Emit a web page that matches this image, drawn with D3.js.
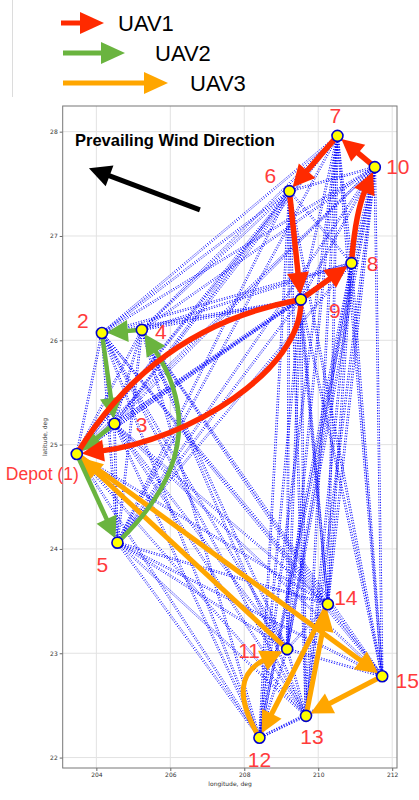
<!DOCTYPE html>
<html>
<head>
<meta charset="utf-8">
<script src="https://cdn.jsdelivr.net/npm/d3@7/dist/d3.min.js"></script>
<style>
  body { margin: 0; background: #fff; }
  svg { display: block; }
</style>
</head>
<body>
<script>
// Waypoints: depot plus 14 targets (longitude / latitude, degrees)
const nodeNames = ["Depot (1)", "2", "3", "4", "5", "6", "7", "8", "9", "10", "11", "12", "13", "14", "15"];
const nodeLon = [203.47, 204.15, 204.49, 205.23, 204.57, 209.22, 210.52, 210.90, 209.53, 211.53, 209.16, 208.41, 209.67, 210.26, 211.73];
const nodeLat = [24.91, 26.07, 25.20, 26.10, 24.06, 27.43, 27.96, 26.74, 26.39, 27.66, 23.04, 22.19, 22.40, 23.47, 22.78];

// Tours flown by each vehicle (node numbers, depot = 1)
const routeUAV1 = [1, 9, 8, 10, 7, 6, 9, 1];
const routeUAV2 = [1, 5, 4, 2, 3, 1];
const routeUAV3 = [1, 15, 13, 14, 12, 11, 1];
const uavNames = ["UAV1", "UAV2", "UAV3"];

// Wind direction annotation (tail -> head, lon/lat)
const windTail = [206.8, 27.25];
const windHead = [203.8, 27.65];

const xTicks = [204, 206, 208, 210, 212];
const yTicks = [22, 23, 24, 25, 26, 27, 28];

const W = 419, H = 800;
const plot = { left: 62.7, right: 397, top: 106, bottom: 768 };

const x = d3.scaleLinear().domain([203.09, 212.13]).range([plot.left, plot.right]);
const y = d3.scaleLinear().domain([21.90, 28.246]).range([plot.bottom, plot.top]);

const svg = d3.select("body").append("svg").attr("width", W).attr("height", H);
svg.append("rect").attr("width", W).attr("height", H).attr("fill", "#fff");

// thin separator at the left of the legend
svg.append("line").attr("x1", 12.5).attr("x2", 12.5).attr("y1", 0).attr("y2", 97)
  .attr("stroke", "#dcdcdc").attr("stroke-width", 1);

// grid
const grid = svg.append("g");
grid.selectAll("line.gx").data(xTicks).join("line")
  .attr("x1", d => x(d)).attr("x2", d => x(d))
  .attr("y1", plot.top).attr("y2", plot.bottom)
  .attr("stroke", "#e2e2e2").attr("stroke-width", 1);
grid.selectAll("line.gy").data(yTicks).join("line")
  .attr("y1", d => y(d)).attr("y2", d => y(d))
  .attr("x1", plot.left).attr("x2", plot.right)
  .attr("stroke", "#e2e2e2").attr("stroke-width", 1);

const pts = nodeLon.map((lo, i) => [x(lo), y(nodeLat[i])]);

// every candidate leg between waypoints, drawn both ways
const legs = [];
for (let i = 0; i < pts.length; i++)
  for (let j = i + 1; j < pts.length; j++)
    for (const s of [-0.8, 0.8]) legs.push({ a: pts[i], b: pts[j], s });
svg.append("g").selectAll("line").data(legs).join("line")
  .each(function (d) {
    const dx = d.b[0] - d.a[0], dy = d.b[1] - d.a[1];
    const L = Math.hypot(dx, dy);
    const ox = -dy / L * d.s, oy = dx / L * d.s;
    d3.select(this)
      .attr("x1", d.a[0] + ox).attr("y1", d.a[1] + oy)
      .attr("x2", d.b[0] + ox).attr("y2", d.b[1] + oy);
  })
  .attr("stroke", "#0000ff").attr("stroke-width", 1)
  .attr("stroke-dasharray", "1.2,1.5").attr("stroke-opacity", 0.95);

// axes
const axisFont = "DejaVu Sans, sans-serif";
const gx = svg.append("g").attr("transform", `translate(0,${plot.bottom})`)
  .call(d3.axisBottom(x).tickValues(xTicks).tickSize(3).tickPadding(2).tickFormat(d3.format("d")));
const gy = svg.append("g").attr("transform", `translate(${plot.left},0)`)
  .call(d3.axisLeft(y).tickValues(yTicks).tickSize(3).tickPadding(2).tickFormat(d3.format("d")));
[gx, gy].forEach(g => {
  g.select(".domain").remove();
  g.selectAll(".tick line").attr("stroke", "#666");
  g.selectAll(".tick text").attr("font-family", axisFont).attr("font-size", 6).attr("fill", "#333");
});
svg.append("rect")
  .attr("x", plot.left).attr("y", plot.top)
  .attr("width", plot.right - plot.left).attr("height", plot.bottom - plot.top)
  .attr("fill", "none").attr("stroke", "#777").attr("stroke-width", 1);

svg.append("text").attr("x", 230).attr("y", 786).attr("text-anchor", "middle")
  .attr("font-family", axisFont).attr("font-size", 6).attr("fill", "#333").text("longitude, deg");
svg.append("text").attr("transform", "translate(47,437) rotate(-90)").attr("text-anchor", "middle")
  .attr("font-family", axisFont).attr("font-size", 6).attr("fill", "#333").text("latitude, deg");

// arrow helper: straight, quadratic (rad) or cubic (chord-relative controls) shaft with a triangular head
function arrow(g, p0, p1, o) {
  const dx = p1[0] - p0[0], dy = p1[1] - p0[1];
  const unit = (a, b) => { const vx = b[0] - a[0], vy = b[1] - a[1], l = Math.hypot(vx, vy); return [vx / l, vy / l]; };
  const rel = (a, b) => [p0[0] + a * dx + b * dy, p0[1] + a * dy - b * dx];
  let c1, c2;
  if (o.cubic) { c1 = rel(o.cubic[0], o.cubic[1]); c2 = rel(o.cubic[2], o.cubic[3]); }
  else if (o.rad) { c1 = c2 = [(p0[0] + p1[0]) / 2 + o.rad * dy, (p0[1] + p1[1]) / 2 - o.rad * dx]; }
  else { c1 = c2 = null; }
  const ua = c1 ? unit(p0, c1) : unit(p0, p1);
  const ub = c2 ? unit(c2, p1) : unit(p0, p1);
  const start = [p0[0] + ua[0] * (o.shrinkA || 0), p0[1] + ua[1] * (o.shrinkA || 0)];
  const tip = [p1[0] - ub[0] * (o.shrinkB || 0), p1[1] - ub[1] * (o.shrinkB || 0)];
  const hl = o.head === false ? 0 : o.headLen;
  const base = [tip[0] - ub[0] * hl, tip[1] - ub[1] * hl];
  const end = o.head === false ? tip : [base[0] + ub[0] * 2, base[1] + ub[1] * 2];
  const p = d3.path();
  p.moveTo(start[0], start[1]);
  if (o.cubic) p.bezierCurveTo(c1[0], c1[1], c2[0], c2[1], end[0], end[1]);
  else if (o.rad) p.quadraticCurveTo(c1[0], c1[1], end[0], end[1]);
  else p.lineTo(end[0], end[1]);
  g.append("path").attr("d", p.toString()).attr("fill", "none")
    .attr("stroke", o.color).attr("stroke-width", o.width).attr("stroke-linecap", "butt");
  if (o.head !== false) {
    const hw = o.headW / 2;
    const tri = [tip, [base[0] - ub[1] * hw, base[1] + ub[0] * hw], [base[0] + ub[1] * hw, base[1] - ub[0] * hw]];
    g.append("path").attr("d", "M" + tri.map(q => q.join(",")).join("L") + "Z").attr("fill", o.color);
  }
}

const uavStyle = [
  { color: "#ff2a00", width: 5.5, headLen: 22, headW: 22 },
  { color: "#6ab43f", width: 4.5, headLen: 21, headW: 22 },
  { color: "#ffa600", width: 5, headLen: 22, headW: 22 }
];
// bending of particular legs, and legs whose head is hidden
const bend = { "1-9": 0.22, "5-4": -0.41, "12-11": 0.54, "8-10": 0.08 };
const curve = { "9-1": [0.146, 0.212, 0.628, 0.193] };
const headless = new Set(["1-9"]);

const routes = [routeUAV1, routeUAV2, routeUAV3];
const rg = svg.append("g");
[2, 1, 0].forEach(k => {
  const r = routes[k];
  for (let i = 0; i < r.length - 1; i++) {
    const key = r[i] + "-" + r[i + 1];
    arrow(rg, pts[r[i] - 1], pts[r[i + 1] - 1], Object.assign({}, uavStyle[k], {
      rad: bend[key] || 0, cubic: curve[key], shrinkA: 3, shrinkB: 5, head: !headless.has(key)
    }));
  }
});

// waypoint markers
svg.append("g").selectAll("circle").data(pts).join("circle")
  .attr("cx", d => d[0]).attr("cy", d => d[1]).attr("r", 5.5)
  .attr("fill", "#ffff00").attr("stroke", "#0000cc").attr("stroke-width", 1.6);

// waypoint labels
const labelOffset = [[2, 20], [-19, -13], [27, 1], [19, 2], [-15, 22], [-19, -16], [-2, -20], [21, 0], [34, 11],
  [23, -1], [-38, 1], [0, 22], [6, 21], [18, -7], [25, 4]];
svg.append("g").selectAll("text").data(nodeNames).join("text")
  .attr("x", (d, i) => pts[i][0] + labelOffset[i][0])
  .attr("y", (d, i) => pts[i][1] + labelOffset[i][1])
  .attr("dy", "0.36em")
  .attr("text-anchor", (d, i) => i === 0 ? "end" : "middle")
  .attr("font-family", "Liberation Sans, Arial, sans-serif")
  .attr("font-size", (d, i) => i === 0 ? 17.5 : 21)
  .attr("fill", "#ff3b3b")
  .text(d => d);

// prevailing wind
svg.append("text").attr("x", 75).attr("y", 146)
  .attr("font-family", "Liberation Sans, Arial, sans-serif").attr("font-weight", "bold")
  .attr("font-size", 16.5).attr("fill", "#000").text("Prevailing Wind Direction");
arrow(svg.append("g"), [x(windTail[0]), y(windTail[1])], [x(windHead[0]), y(windHead[1])],
  { color: "#000", width: 5, headLen: 22, headW: 22 });

// legend
const legendRows = [
  { x0: 61, x1: 104, y: 23, tx: 118 },
  { x0: 63, x1: 125, y: 53, tx: 155 },
  { x0: 63, x1: 168, y: 83, tx: 190 }
];
const lg = svg.append("g");
uavNames.forEach((name, k) => {
  const row = legendRows[k];
  arrow(lg, [row.x0, row.y], [row.x1, row.y], Object.assign({}, uavStyle[k], { width: 5, headLen: 24, headW: 22 }));
  lg.append("text").attr("x", row.tx).attr("y", row.y).attr("dy", "0.36em")
    .attr("font-family", "Liberation Sans, Arial, sans-serif").attr("font-size", 22)
    .attr("fill", "#000").text(name);
});
</script>
</body>
</html>
